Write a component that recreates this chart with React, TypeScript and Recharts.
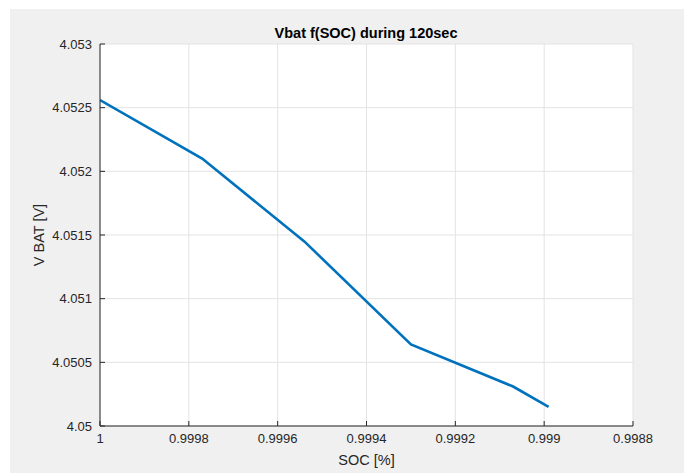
import React from "react";
import { LineChart, Line, XAxis, YAxis, CartesianGrid, Label } from "recharts";

// state of charge (x) and battery voltage (y) samples
const soc = [1, 0.99977, 0.99954, 0.9993, 0.99907, 0.99899];
const vbat = [4.05256, 4.0521, 4.05145, 4.05064, 4.05031, 4.05015];

const socTicks = [1, 0.9998, 0.9996, 0.9994, 0.9992, 0.999, 0.9988];
const vTicks = [4.05, 4.0505, 4.051, 4.0515, 4.052, 4.0525, 4.053];

const data = soc.map((s, i) => ({ soc: s, v: vbat[i] }));

const AXIS = "#262626";
const FONT = "'Liberation Sans', Arial, Helvetica, sans-serif";
const tickStyle = { fontSize: 13, fill: AXIS, fontFamily: FONT };

export default function App() {
  return (
    <div style={{ position: "absolute", left: 0, top: 0, width: 684, height: 473, background: "#fff" }}>
      <div style={{ position: "absolute", left: 10, top: 9, width: 674, height: 464, background: "#f0f0f0" }} />
      <div
        style={{
          position: "absolute",
          left: 216,
          top: 25,
          width: 300,
          textAlign: "center",
          fontFamily: FONT,
          fontWeight: "bold",
          fontSize: 14.5,
          lineHeight: "16px",
          color: "#000",
        }}
      >
        Vbat f(SOC) during 120sec
      </div>
      <div style={{ position: "absolute", left: 0, top: 0 }}>
        <LineChart width={684} height={473} data={data} margin={{ top: 44, right: 51, bottom: 17, left: 30 }}>
          <CartesianGrid stroke="#e3e3e3" fill="#ffffff" fillOpacity={1} horizontalValues={vTicks} verticalValues={socTicks} />
          <XAxis
            dataKey="soc"
            type="number"
            domain={[0.9988, 1]}
            reversed
            ticks={socTicks}
            interval={0}
            allowDataOverflow
            height={30}
            tickSize={-5}
            tickMargin={13}
            tick={tickStyle}
            tickFormatter={(v: number) => String(v)}
            stroke={AXIS}
          >
            <Label value="SOC [%]" position="bottom" offset={-1} style={{ fontSize: 14.5, fill: AXIS, fontFamily: FONT }} />
          </XAxis>
          <XAxis
            xAxisId="top"
            orientation="top"
            dataKey="soc"
            type="number"
            domain={[0.9988, 1]}
            reversed
            ticks={socTicks}
            interval={0}
            allowDataOverflow
            height={0}
            tickSize={-5}
            tick={false}
            stroke={AXIS}
          />
          <YAxis
            type="number"
            domain={[4.05, 4.053]}
            ticks={vTicks}
            interval={0}
            allowDataOverflow
            width={70}
            tickSize={-5}
            tickMargin={13}
            tick={tickStyle}
            tickFormatter={(v: number) => String(v)}
            stroke={AXIS}
          >
            <Label
              value="V BAT [V]"
              position="insideLeft"
              offset={9}
              angle={-90}
              style={{ fontSize: 14.5, fill: AXIS, fontFamily: FONT, textAnchor: "middle" }}
            />
          </YAxis>
          <YAxis
            yAxisId="right"
            orientation="right"
            type="number"
            domain={[4.05, 4.053]}
            ticks={vTicks}
            interval={0}
            allowDataOverflow
            width={0}
            tickSize={-5}
            tick={false}
            stroke={AXIS}
          />
          <Line
            type="linear"
            dataKey="v"
            stroke="#0072BD"
            strokeWidth={2.6}
            dot={false}
            isAnimationActive={false}
          />
        </LineChart>
      </div>
    </div>
  );
}
